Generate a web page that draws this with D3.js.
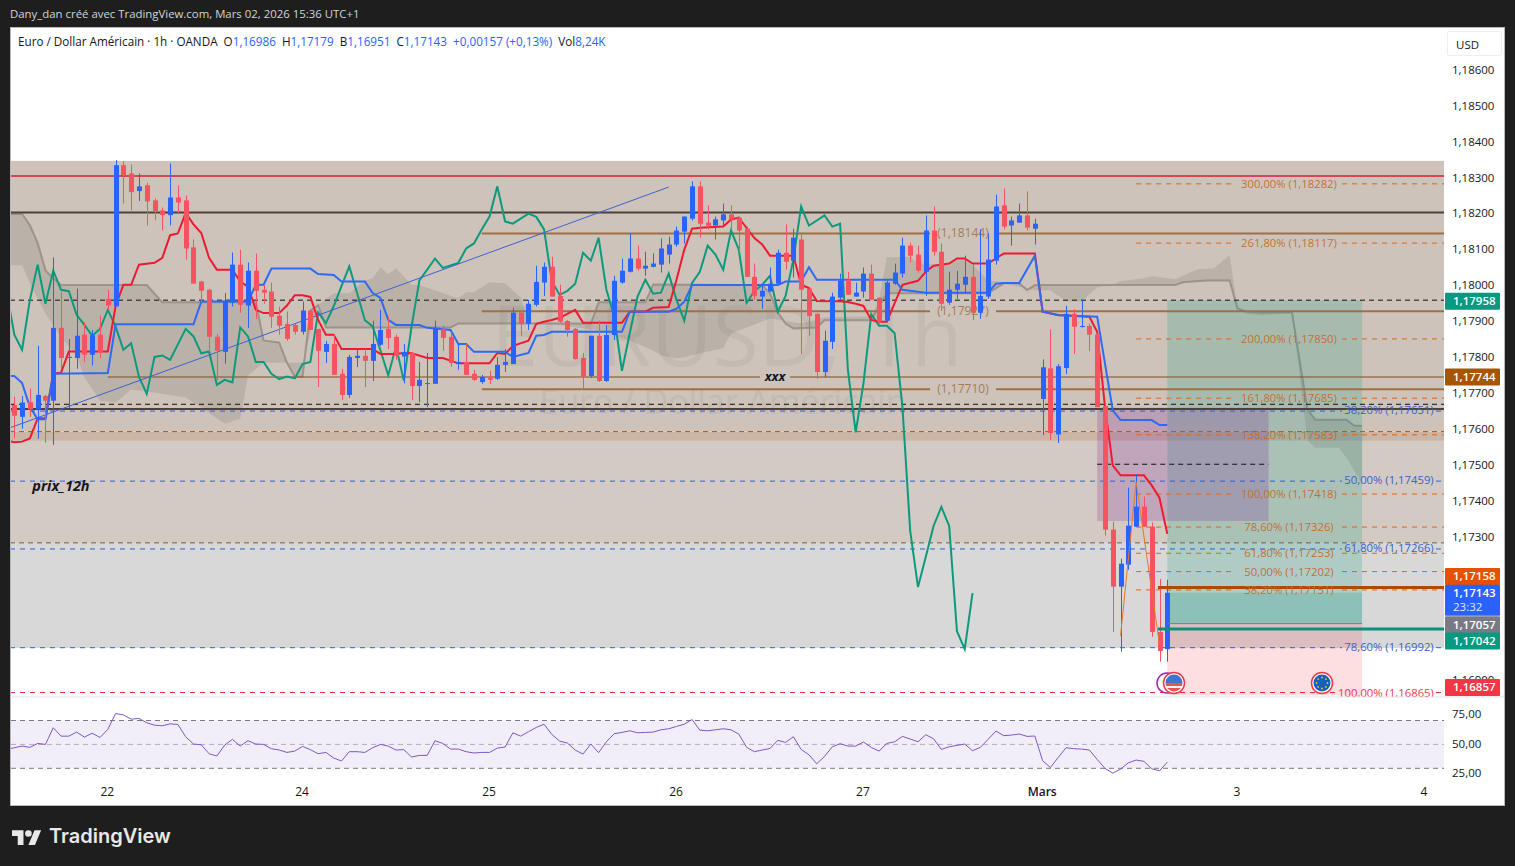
<!DOCTYPE html>
<html>
<head>
<meta charset="utf-8">
<title>EURUSD 1h</title>
<script src="https://cdn.jsdelivr.net/npm/d3@7"></script>
<style>
body { margin: 0; background: #1e1e1e; overflow: hidden; }
svg { display: block; }
text { font-family: "Open Sans", sans-serif; }
</style>
</head>
<body>
<svg id="chart" width="1515" height="866"></svg>
<script>
// candles, one value per bar
const opens = [1.17666,1.17633,1.17674,1.17654,1.17691,1.17678,1.17881,1.17797,1.17797,1.17862,1.17806,1.17862,1.17962,1.17941,1.18334,1.18311,1.18262,1.18278,1.18236,1.18208,
1.18195,1.18244,1.18236,1.18105,1.18010,1.17987,1.17856,1.17814,1.17951,1.18057,1.17943,1.18040,1.17987,1.17982,1.17915,1.17892,1.17889,1.17870,1.17929,1.17878,
1.17814,1.17836,1.17753,1.17694,1.17797,1.17803,1.17789,1.17834,1.17878,1.17856,1.17801,1.17811,1.17719,1.17726,1.17725,1.17878,1.17856,1.17780,1.17786,1.17753,
1.17730,1.17741,1.17739,1.17778,1.17780,1.17923,1.17892,1.17945,1.18007,1.18051,1.17970,1.17900,1.17878,1.17797,1.17747,1.17859,1.17733,1.17861,1.18007,1.18037,
1.18074,1.18046,1.18051,1.18057,1.18085,1.18113,1.18149,1.18185,1.18275,1.18174,1.18166,1.18180,1.18197,1.18188,1.18157,1.18023,1.17968,1.17982,1.18004,1.18090,
1.18068,1.18127,1.17990,1.17920,1.17758,1.17842,1.17965,1.18015,1.17968,1.17982,1.18032,1.17965,1.17901,1.18004,1.18032,1.18110,1.18085,1.18037,1.18152,1.18093,
1.17951,1.17987,1.18001,1.18023,1.17923,1.17968,1.18068,1.18222,1.18166,1.18174,1.18194,1.18157,1.17683,1.17768,1.17584,1.17769,1.17920,1.17884,1.17886,1.17862,
1.17663,1.17319,1.17160,1.17221,1.17327,1.17383,1.17327,1.17034,1.16986];
const highs = [1.17689,1.17691,1.17712,1.17831,1.17694,1.18077,1.17981,1.17850,1.17990,1.17897,1.17875,1.17915,1.17987,1.18348,1.18345,1.18336,1.18311,1.18285,1.18241,1.18216,
1.18339,1.18278,1.18250,1.18127,1.18012,1.17990,1.17864,1.17978,1.18091,1.18099,1.18063,1.18088,1.18001,1.18007,1.17940,1.17926,1.17892,1.17954,1.17931,1.17878,
1.17845,1.17862,1.17767,1.17806,1.17822,1.17822,1.17901,1.17931,1.17912,1.17862,1.17836,1.17814,1.17786,1.17811,1.17901,1.17887,1.17867,1.17836,1.17836,1.17764,
1.17750,1.17761,1.17800,1.17822,1.17937,1.17931,1.17959,1.18054,1.18063,1.18079,1.18001,1.17903,1.17880,1.17811,1.17859,1.17901,1.17889,1.18026,1.18074,1.18144,
1.18110,1.18093,1.18088,1.18130,1.18135,1.18163,1.18191,1.18289,1.18289,1.18222,1.18191,1.18227,1.18222,1.18191,1.18163,1.18060,1.18001,1.18049,1.18099,1.18169,
1.18157,1.18141,1.17990,1.17922,1.17873,1.17979,1.18032,1.18037,1.18007,1.18049,1.18057,1.17965,1.18012,1.18060,1.18132,1.18118,1.18110,1.18194,1.18219,1.18116,
1.18037,1.18040,1.18082,1.18057,1.18155,1.18145,1.18252,1.18269,1.18191,1.18227,1.18261,1.18185,1.17793,1.17877,1.17780,1.17942,1.17933,1.17959,1.17893,1.17866,
1.17663,1.17341,1.17238,1.17436,1.17473,1.17411,1.17339,1.17182,1.17179];
const lows = [1.17573,1.17600,1.17633,1.17572,1.17561,1.17555,1.17767,1.17657,1.17767,1.17786,1.17776,1.17797,1.17931,1.17941,1.18227,1.18208,1.18234,1.18166,1.18181,1.18152,
1.18166,1.18199,1.18071,1.18004,1.17954,1.17814,1.17736,1.17781,1.17940,1.17923,1.17881,1.17906,1.17948,1.17881,1.17862,1.17845,1.17862,1.17862,1.17875,1.17716,
1.17783,1.17750,1.17680,1.17686,1.17772,1.17716,1.17733,1.17831,1.17822,1.17792,1.17726,1.17680,1.17674,1.17660,1.17725,1.17817,1.17773,1.17764,1.17750,1.17733,
1.17725,1.17725,1.17736,1.17758,1.17780,1.17859,1.17875,1.17940,1.17970,1.17968,1.17895,1.17856,1.17792,1.17713,1.17741,1.17730,1.17730,1.17847,1.18004,1.18035,
1.18040,1.18026,1.18049,1.18035,1.18060,1.18107,1.18116,1.18180,1.18132,1.18155,1.18127,1.18163,1.18155,1.18090,1.18022,1.17959,1.17934,1.17982,1.18001,1.18043,
1.18021,1.17808,1.17859,1.17739,1.17743,1.17822,1.17959,1.17973,1.17968,1.17965,1.17959,1.17892,1.17898,1.18001,1.18021,1.18063,1.18035,1.17970,1.18082,1.17928,
1.17945,1.17962,1.17976,1.17903,1.17906,1.17962,1.18057,1.18155,1.18110,1.18174,1.18152,1.18113,1.17582,1.17568,1.17560,1.17752,1.17808,1.17882,1.17816,1.17660,
1.17302,1.17034,1.16979,1.17207,1.17327,1.17327,1.17020,1.16951,1.16951];
const closes = [1.17636,1.17673,1.17654,1.17694,1.17678,1.17881,1.17797,1.17800,1.17859,1.17806,1.17860,1.17814,1.17943,1.18334,1.18306,1.18259,1.18275,1.18233,1.18205,1.18195,
1.18244,1.18230,1.18102,1.18004,1.17984,1.17856,1.17817,1.17956,1.18057,1.17945,1.18040,1.17984,1.17979,1.17912,1.17887,1.17850,1.17870,1.17929,1.17875,1.17817,
1.17836,1.17750,1.17694,1.17800,1.17803,1.17789,1.17836,1.17875,1.17853,1.17803,1.17814,1.17719,1.17736,1.17727,1.17881,1.17853,1.17783,1.17786,1.17750,1.17736,
1.17744,1.17736,1.17778,1.17786,1.17923,1.17892,1.17948,1.18009,1.18051,1.17968,1.17898,1.17875,1.17794,1.17744,1.17859,1.17733,1.17861,1.18012,1.18040,1.18074,
1.18046,1.18054,1.18060,1.18102,1.18113,1.18152,1.18191,1.18275,1.18171,1.18166,1.18183,1.18197,1.18183,1.18152,1.18023,1.17970,1.17984,1.18004,1.18090,1.18065,
1.18132,1.17987,1.17914,1.17758,1.17845,1.17968,1.18012,1.17973,1.17979,1.18032,1.17959,1.17898,1.18007,1.18035,1.18110,1.18082,1.18040,1.18152,1.18093,1.17948,
1.17987,1.18004,1.18023,1.17923,1.17970,1.18071,1.18219,1.18163,1.18180,1.18194,1.18160,1.18171,1.17771,1.17588,1.17774,1.17920,1.17884,1.17886,1.17862,1.17660,
1.17319,1.17160,1.17224,1.17330,1.17383,1.17327,1.17034,1.16981,1.17143];

// green line, one value per bar starting one bar before the first candle
const laggingVals = [1.17985,1.17862,1.17820,1.17959,1.18057,1.17948,1.18040,1.17987,1.17983,1.17917,1.17889,1.17859,1.17878,1.17931,1.17885,1.17820,1.17838,1.17745,1.17697,1.17800,1.17804,
1.17792,1.17835,1.17878,1.17857,1.17810,1.17815,1.17722,1.17736,1.17729,1.17882,1.17857,1.17786,1.17786,1.17753,1.17738,1.17745,1.17740,1.17780,1.17786,1.17924,
1.17894,1.17941,1.17997,1.18052,1.17978,1.17902,1.17885,1.17818,1.17749,1.17829,1.17734,1.17885,1.18013,1.18043,1.18074,1.18048,1.18055,1.18062,1.18102,1.18116,
1.18155,1.18191,1.18275,1.18177,1.18171,1.18185,1.18199,1.18190,1.18155,1.18010,1.17973,1.17984,1.18004,1.18090,1.18068,1.18132,1.17987,1.17913,1.17761,1.17866,
1.17968,1.18015,1.17976,1.17979,1.18032,1.17959,1.17901,1.18006,1.18037,1.18110,1.18085,1.18043,1.18152,1.18099,1.17951,1.17983,1.18001,1.18026,1.17926,1.17970,
1.18071,1.18219,1.18166,1.18180,1.18194,1.18163,1.18171,1.17764,1.17590,1.17726,1.17919,1.17887,1.17887,1.17866,1.17661,1.17315,1.17159,1.17243,1.17329,1.17382,
1.17329,1.17036,1.16986,1.17142];

// red line, read at its corners
const convBars = [-1,0,1,2,3,4,5,6,7,12,13,14,15,16,18,19,20,21,22,23,24,25,26,28,29,30,31,32,34,35,36,37,38,39,40,41,42,46,47,49,50,51,53,55,57,61,62,63,64,66,67,68,69,70,72,73,78,79,81,82,84,85,86,87,88,91,92,93,94,95,96,97,100,101,102,103,106,107,108,109,110,111,112,113,114,116,117,118,120,121,122,123,125,127,131,132,134,138,139,140,141,142,145,146,147,148];
const convVals = [1.17567,1.17562,1.17564,1.17573,1.17629,1.17629,1.17754,1.17756,1.17815,1.17815,1.17941,1.18001,1.18001,1.18057,1.18062,1.18076,1.18139,1.18144,1.18201,1.18169,1.18145,1.18076,1.18043,1.18043,1.18010,1.17996,1.17931,1.17922,1.17922,1.17943,1.17972,1.17972,1.17967,1.17903,1.17862,1.17862,1.17822,1.17822,1.17808,1.17808,1.17811,1.17810,1.17797,1.17797,1.17782,1.17782,1.17811,1.17808,1.17831,1.17845,1.17892,1.17898,1.17903,1.17909,1.17931,1.17895,1.17895,1.17926,1.17926,1.17937,1.17939,1.18015,1.18099,1.18157,1.18160,1.18163,1.18183,1.18188,1.18159,1.18131,1.18113,1.18082,1.18082,1.18001,1.17992,1.17956,1.17955,1.17953,1.17948,1.17942,1.17903,1.17898,1.17898,1.17950,1.18001,1.18012,1.18037,1.18054,1.18060,1.18074,1.18074,1.18060,1.18060,1.18088,1.18088,1.17926,1.17917,1.17912,1.17870,1.17661,1.17498,1.17470,1.17470,1.17442,1.17407,1.17307];

// blue line, read at its corners
const baseBars = [-1,0,1,2,3,4,5,12,13,23,24,30,31,32,33,38,39,41,42,45,46,47,48,49,52,53,56,57,58,59,63,64,66,67,68,69,78,79,84,85,86,87,98,99,101,102,103,113,114,117,125,126,127,129,131,132,134,139,141,142,146,147,148];
const baseVals = [1.17747,1.17747,1.17727,1.17661,1.17626,1.17626,1.17753,1.17755,1.17891,1.17891,1.17954,1.17954,1.18001,1.18001,1.18046,1.18046,1.18031,1.18028,1.18010,1.18010,1.17978,1.17964,1.17903,1.17889,1.17889,1.17881,1.17875,1.17836,1.17836,1.17814,1.17814,1.17800,1.17811,1.17859,1.17861,1.17870,1.17870,1.17926,1.17926,1.17934,1.17954,1.18000,1.18000,1.18010,1.18010,1.18050,1.18015,1.18015,1.17987,1.17979,1.17979,1.18004,1.18006,1.18006,1.18082,1.17926,1.17916,1.17912,1.17651,1.17624,1.17624,1.17610,1.17610];

// cloud edges
const spanABars = [-1,1,2,4,6,8,9,11,13,15,18,22,24,27,29,30,32,37,39,41,43,45,46,47,48,49,51,52,57,58,59,61,63,65,66,70,75,79,82,83,85,86,88,91,92,94,97,101,104,110,111,112,115,116,119,121,122,123,124,125,127,128,131,133,135,137,139,141,142,145,146,147,149,151,152,154,156,157,158,160,164,166,167,170,171,173];
const spanAVals = [1.18055,1.18055,1.18005,1.17921,1.17854,1.17804,1.17743,1.17678,1.17673,1.17709,1.17701,1.17687,1.17659,1.17614,1.17628,1.17748,1.17784,1.17784,1.17944,1.17977,1.17977,1.18013,1.18019,1.18050,1.18030,1.18047,1.18000,1.18000,1.17963,1.17980,1.17980,1.18008,1.18005,1.17966,1.17896,1.17888,1.17874,1.17846,1.17818,1.17804,1.17796,1.17799,1.17810,1.17824,1.17865,1.17882,1.17907,1.17893,1.17910,1.17913,1.17958,1.18078,1.18078,1.18061,1.18055,1.18069,1.18069,1.18055,1.18036,1.18013,1.18008,1.18000,1.17986,1.17986,1.17955,1.17955,1.17994,1.18000,1.18011,1.18019,1.18025,1.18022,1.18016,1.18036,1.18044,1.18047,1.18083,1.17935,1.17921,1.17916,1.17924,1.17567,1.17547,1.17547,1.17519,1.17446];
const spanBBars = [-1,1,2,3,4,5,6,17,19,31,32,34,35,36,37,38,39,40,49,56,57,74,75,81,82,93,96,97,98,99,100,103,104,110,112,125,127,129,130,131,149,150,153,156,157,158,160,164,166,167,171,172,173];
const spanBVals = [1.18198,1.18198,1.18167,1.18117,1.18041,1.18019,1.18000,1.18000,1.17952,1.17952,1.17846,1.17840,1.17784,1.17745,1.17745,1.17930,1.17944,1.17882,1.17882,1.17882,1.17893,1.17893,1.17952,1.17952,1.18002,1.18000,1.18000,1.17977,1.17924,1.17893,1.17879,1.17882,1.17902,1.17902,1.17977,1.17977,1.18005,1.18005,1.17986,1.18000,1.18000,1.18008,1.18013,1.18013,1.17935,1.17927,1.17924,1.17924,1.17653,1.17625,1.17625,1.17608,1.17608];

// RSI, one value per bar starting one bar before the first candle
const rsiVals = [45.8,47.2,48.6,47.5,50.8,50,63.9,56.9,56.9,60.3,56.1,59.4,55.8,62.5,75.8,74.7,71.1,71.7,68.1,66.1,65.6,67.2,66.7,56.4,50.3,49.7,42.2,40.3,49.4,54.2,48.6,53.1,50.3,50,46.4,45.3,43.3,44.4,48.3,45.6,42.2,43.3,38.6,36.1,43.9,43.9,43.3,47.2,50,48.6,45.3,45.6,39.4,40.8,40.8,53.1,50.8,46.1,46.1,43.9,42.8,43.3,43.3,46.9,47.8,59.7,56.9,60.6,64.2,66.9,58.3,52.8,51.1,45.3,41.9,50.3,43.1,52.2,58.9,60,61.4,59.7,60,60.3,62.2,63.1,65,66.9,70.8,61.9,61.4,62.2,63.1,62.2,58.6,47.5,43.9,45.3,46.6,53.4,51.7,56.4,45.8,41.3,33.8,39.9,48,50.6,48.6,48.6,52,47.5,44.4,50.8,52.2,56.7,54.5,52.2,58.1,54.7,45.8,48,49.2,50.3,44.7,47.5,54.2,61.2,57.3,57.8,58.7,56.7,57,36.3,30.7,39.1,47.2,46.4,46.1,45.3,37.4,29.9,26,29.3,34.6,36.9,35.8,29.6,27.9,35.2];
const rsiLevels = [70, 50, 30];
const rsiTicks = [75, 50, 25];

// axes
const priceTicks = [1.186,1.185,1.184,1.183,1.182,1.181,1.18,1.179,1.178,1.177,1.176,1.175,1.174,1.173,1.172,1.171,1.17,1.169];
const dayBars = [12, 37, 61, 85, 109, 132, 157, 181];
const dayLabels = ["22", "24", "25", "26", "27", "Mars", "3", "4"];

// background zones: top, bottom
const zoneTops = [1.18346, 1.17592, 1.17566, 1.17282];
const zoneBottoms = [1.17592, 1.17566, 1.17282, 1.16989];
const zoneColors = ["#cdc3ba", "#cbb5a4", "#d3cbc3", "#d8d8d8"];

// drawn levels
const solidPrices = [1.18304, 1.18202, 1.17655];
const solidColors = ["#cf4a52", "#4d4239", "#4d4239"];
const blackDashes = [1.17958, 1.17668];
const labelLevels = [1.18144, 1.17927, 1.17710];
const fibOrangePct = ["300,00%","261,80%","200,00%","161,80%","138,20%","100,00%","78,60%","61,80%","50,00%","38,20%"];
const fibOrangePrices = [1.18282,1.18117,1.1785,1.17685,1.17583,1.17418,1.17326,1.17253,1.17202,1.17151];
const fibBluePct = ["38,20%","50,00%","61,80%","78,60%"];
const fibBlueLabels = [1.17651,1.17459,1.17266,1.16992];
const fibBlueLines = [1.17649,1.17454,1.17265,1.1699];
const trendBars = [-1, 84];
const trendVals = [1.17599, 1.18273];
const zigzagBars = [142, 144, 147];
const zigzagVals = [1.17023, 1.17451, 1.16999];

// price tags on the axis
const tagPrices = [1.17958, 1.17744, 1.17158, 1.17143, 1.17057, 1.17042, 1.16857];
const tagColors = ["#089981", "#a85500", "#e65100", "#2962ff", "#787b86", "#089981", "#f23645"];
const tagShift = [1, 0, -11, 0, 1, 12, -8];

const svg = d3.select('#chart');
const plotL = 10, plotR = 1444, axisR = 1500, paneTop = 27, paneBot = 697, rsiBot = 775, panelBot = 805;

const x = d3.scaleLinear().domain([0, 148]).range([14.3, 1167.3]);
const y = d3.scaleLinear().domain([1.186, 1.169]).range([69.7, 680]);
const rsiY = d3.scaleLinear().domain([70, 30]).range([720.5, 768.3]);

const comma = d3.formatLocale({decimal: ",", thousands: " ", grouping: [3], currency: ["", ""]});
const fmtPrice = comma.format(".5f");
const fmtRsi = comma.format(".2f");

// frame
svg.append('rect').attr('x', plotL + 0.5).attr('y', paneTop + 0.5).attr('width', 1494).attr('height', panelBot - paneTop)
    .attr('fill', '#fff').attr('stroke', '#b8b8b8');

const defs = svg.append('defs');
defs.append('clipPath').attr('id', 'clip').append('rect')
    .attr('x', plotL + 1).attr('y', paneTop).attr('width', plotR - plotL - 1).attr('height', paneBot - paneTop);
defs.append('clipPath').attr('id', 'clipRsi').append('rect')
    .attr('x', plotL + 1).attr('y', paneBot).attr('width', plotR - plotL - 1).attr('height', rsiBot - paneBot);
defs.append('clipPath').attr('id', 'clipFlag').append('circle').attr('cx', 1174).attr('cy', 683).attr('r', 8.5);

const main = svg.append('g').attr('clip-path', 'url(#clip)');

zoneTops.forEach((t, i) => {
    main.append('rect').attr('x', plotL).attr('width', plotR - plotL)
        .attr('y', y(t)).attr('height', y(zoneBottoms[i]) - y(t)).attr('fill', zoneColors[i]);
});

// watermark
main.append('text').text('EURUSD, 1h').attr('x', 727).attr('y', 366).attr('text-anchor', 'middle')
    .style('font-size', '84px').attr('fill', '#6b6b6b').attr('opacity', 0.09);
main.append('text').text('Euro / Dollar Américain').attr('x', 723).attr('y', 414).attr('text-anchor', 'middle')
    .style('font-size', '34px').attr('fill', '#6b6b6b').attr('opacity', 0.09);

// cloud
const lineFn = d3.line().x(d => x(d[0])).y(d => y(d[1]));
const spanA = spanABars.map((b, i) => [b, spanAVals[i]]);
const spanB = spanBBars.map((b, i) => [b, spanBVals[i]]);
main.append('path').attr('d', lineFn(spanA.concat(spanB.slice().reverse())) + 'Z')
    .attr('fill', '#6e6a66').attr('fill-opacity', 0.2);
main.append('path').attr('d', lineFn(spanB)).attr('fill', 'none').attr('stroke', '#8d8780').attr('stroke-opacity', 0.75).attr('stroke-width', 2);

// position and box drawings
const boxes = [
    {b0: 148, b1: 173, top: 1.17958, bot: 1.17057, fill: 'rgba(8,153,129,0.20)'},
    {b0: 148, b1: 173, top: 1.17143, bot: 1.17057, fill: 'rgba(8,153,129,0.20)'},
    {b0: 148, b1: 173, top: 1.17057, bot: 1.16857, fill: 'rgba(242,54,69,0.16)'},
    {b0: 139, b1: 161, top: 1.17658, bot: 1.17343, fill: 'rgba(130,30,160,0.22)'}
];
boxes.forEach(b => {
    main.append('rect').attr('x', x(b.b0)).attr('width', x(b.b1) - x(b.b0))
        .attr('y', y(b.top)).attr('height', y(b.bot) - y(b.top)).attr('fill', b.fill);
});

function hline(price, x1, x2, color, w, dash) {
    main.append('line').attr('x1', x1).attr('x2', x2).attr('y1', y(price)).attr('y2', y(price))
        .attr('stroke', color).attr('stroke-width', w).attr('stroke-dasharray', dash || null);
}

// levels
solidPrices.forEach((p, i) => hline(p, plotL, plotR, solidColors[i], 2));
blackDashes.forEach(p => hline(p, plotL, plotR, '#111', 1, '5,4'));
hline(1.17501, x(139), x(161), '#111', 1, '5,4');
hline(1.17592, plotL, plotR, '#b8590e', 1, '5,4');
hline(1.17282, plotL, plotR, '#7a5a45', 1, '5,4');
hline(1.17744, x(12), 760, '#80501f', 1.2);
hline(1.17744, 790, plotR, '#80501f', 1.2);

const levelText = main.append('g');
labelLevels.forEach(p => {
    hline(p, x(60), 930, '#a06f45', 2);
    hline(p, 996, plotR, '#a06f45', 2);
    levelText.append('text').text('(' + fmtPrice(p) + ')').attr('x', 963).attr('y', y(p) + 4)
        .attr('text-anchor', 'middle').attr('fill', '#a97c55').style('font-size', '12px');
});

// fib dashes with the text gap
fibBlueLines.forEach(p => {
    hline(p, plotL, 1342, '#2f5fd8', 1, '5,5');
    hline(p, 1436, plotR, '#2f5fd8', 1, '5,5');
});
hline(1.16865, plotL, 1336, '#f2202f', 1, '5,5');
hline(1.16865, 1436, plotR, '#f2202f', 1, '5,5');
fibOrangePrices.forEach(p => {
    hline(p, x(144), 1236, '#e8620e', 1, '5,5');
    hline(p, 1342, plotR, '#e8620e', 1, '5,5');
});

// ichimoku lines
main.append('path').attr('d', lineFn(laggingVals.map((v, i) => [i - 1, v])))
    .attr('fill', 'none').attr('stroke', '#0c9a7d').attr('stroke-width', 2);
main.append('path').attr('d', lineFn(convBars.map((b, i) => [b, convVals[i]])))
    .attr('fill', 'none').attr('stroke', '#ef1a2f').attr('stroke-width', 2);
main.append('path').attr('d', lineFn(baseBars.map((b, i) => [b, baseVals[i]])))
    .attr('fill', 'none').attr('stroke', '#2f6af5').attr('stroke-width', 2);

// trend line
main.append('path').attr('d', lineFn(trendBars.map((b, i) => [b, trendVals[i]])))
    .attr('fill', 'none').attr('stroke', '#3d62d0').attr('stroke-width', 1);

// candles
const barIdx = d3.range(opens.length);
const up = i => closes[i] >= opens[i];
const candleColor = i => up(i) ? '#2962ff' : '#f7525f';
main.append('g').selectAll('line').data(barIdx).enter().append('line')
    .attr('x1', i => Math.round(x(i)) + 0.5).attr('x2', i => Math.round(x(i)) + 0.5)
    .attr('y1', i => y(highs[i])).attr('y2', i => y(lows[i]))
    .attr('stroke', candleColor);
main.append('g').selectAll('rect').data(barIdx).enter().append('rect')
    .attr('x', i => Math.round(x(i)) - 2).attr('width', 5)
    .attr('y', i => y(Math.max(opens[i], closes[i])))
    .attr('height', i => Math.max(1, Math.abs(y(opens[i]) - y(closes[i]))))
    .attr('fill', candleColor);

main.append('path').attr('d', lineFn(zigzagBars.map((b, i) => [b, zigzagVals[i]])))
    .attr('fill', 'none').attr('stroke', '#e07a25').attr('stroke-width', 1);

// position lines
hline(1.17158, x(146.8), plotR, '#b04a00', 3);
hline(1.17042, x(146.8), plotR, '#0e8f7c', 3);
main.append('line').attr('x1', x(148)).attr('x2', x(173)).attr('y1', y(1.17057)).attr('y2', y(1.17057))
    .attr('stroke', '#787b86').attr('stroke-width', 1);

// fib labels
fibOrangePrices.forEach((p, i) => {
    main.append('text').text(fibOrangePct[i] + ' (' + fmtPrice(p) + ')').attr('x', 1289).attr('y', y(p) + 4)
        .attr('text-anchor', 'middle').attr('fill', '#c8692a').attr('fill-opacity', 0.95).style('font-size', '11.3px');
});
fibBlueLabels.forEach((p, i) => {
    main.append('text').text(fibBluePct[i] + ' (' + fmtPrice(p) + ')').attr('x', 1389).attr('y', y(fibBlueLines[i]) + 3)
        .attr('text-anchor', 'middle').attr('fill', '#3a62cc').style('font-size', '11.3px');
});
main.append('text').text('100,00% (' + fmtPrice(1.16865) + ')').attr('x', 1386).attr('y', y(1.16865) + 4)
    .attr('text-anchor', 'middle').attr('fill', '#f23645').style('font-size', '11.3px');

main.append('text').text('xxx').attr('x', 775).attr('y', y(1.17744) + 4).attr('text-anchor', 'middle')
    .style('font-size', '13px').style('font-weight', 700).style('font-style', 'italic').attr('fill', '#131722');
main.append('text').text('prix_12h').attr('x', 61).attr('y', 491).attr('text-anchor', 'middle')
    .style('font-size', '14.5px').style('font-weight', 700).style('font-style', 'italic').attr('fill', '#131722');

// event icons
const icons = svg.append('g');
icons.append('circle').attr('cx', 1167).attr('cy', 683).attr('r', 10).attr('fill', 'none').attr('stroke', '#9c27b0').attr('stroke-width', 1.5);
icons.append('circle').attr('cx', 1174).attr('cy', 683).attr('r', 10.5).attr('fill', '#fff').attr('stroke', '#f23645').attr('stroke-width', 1.5);
const flag = icons.append('g').attr('clip-path', 'url(#clipFlag)');
flag.append('rect').attr('x', 1165).attr('y', 674).attr('width', 18).attr('height', 18).attr('fill', '#f4f4f4');
flag.append('rect').attr('x', 1165).attr('y', 683).attr('width', 18).attr('height', 3).attr('fill', '#e4574f');
flag.append('rect').attr('x', 1165).attr('y', 688).attr('width', 18).attr('height', 4).attr('fill', '#e4574f');
flag.append('rect').attr('x', 1165).attr('y', 674).attr('width', 18).attr('height', 9).attr('fill', '#3f74d0');
icons.append('circle').attr('cx', 1322).attr('cy', 683).attr('r', 10.5).attr('fill', '#fff').attr('stroke', '#f23645').attr('stroke-width', 1.5);
icons.append('circle').attr('cx', 1322).attr('cy', 683).attr('r', 8.5).attr('fill', '#1560bd');
d3.range(8).forEach(k => icons.append('circle')
    .attr('cx', 1322 + 5.5 * Math.cos(k * Math.PI / 4)).attr('cy', 683 + 5.5 * Math.sin(k * Math.PI / 4))
    .attr('r', 0.9).attr('fill', '#f5c518'));

// price axis
const priceAxis = svg.append('g').attr('transform', `translate(${plotR},0)`)
    .call(d3.axisRight(y).tickValues(priceTicks).tickSize(0).tickPadding(8).tickFormat(fmtPrice));
priceAxis.select('.domain').remove();
priceAxis.selectAll('text').style('font-size', '11.5px').style('font-family', '"Open Sans", sans-serif').attr('fill', '#131722');

// tags over the axis
tagPrices.forEach((p, i) => {
    const h = p == 1.17143 ? 31 : 17;
    const cy = y(p) + tagShift[i];
    const top = p == 1.17143 ? cy - 8 : cy - h / 2;
    svg.append('rect').attr('x', plotR + 1).attr('y', top).attr('width', axisR - plotR - 1).attr('height', h)
        .attr('rx', 1).attr('fill', tagColors[i]);
    svg.append('text').text(fmtPrice(p)).attr('x', plotR + 9).attr('y', cy + 4).attr('fill', '#fff')
        .style('font-size', '11.5px').style('font-weight', 600);
});
svg.append('text').text('23:32').attr('x', plotR + 9).attr('y', y(1.17143) + 18).attr('fill', '#dfe6ff').style('font-size', '11.5px');

// RSI pane
svg.append('line').attr('x1', plotL).attr('x2', 1504).attr('y1', paneBot).attr('y2', paneBot).attr('stroke', '#e0e3eb');
svg.append('rect').attr('x', plotL + 1).attr('width', plotR - plotL - 1)
    .attr('y', rsiY(70)).attr('height', rsiY(30) - rsiY(70)).attr('fill', '#7e57c2').attr('fill-opacity', 0.1);
rsiLevels.forEach(v => {
    svg.append('line').attr('x1', plotL + 1).attr('x2', plotR).attr('y1', rsiY(v)).attr('y2', rsiY(v))
        .attr('stroke', v == 50 ? '#b0aeb8' : '#787b86').attr('stroke-dasharray', '5,4');
});
const rsiLine = d3.line().x((d, i) => x(i - 1)).y(d => rsiY(d));
svg.append('path').attr('d', rsiLine(rsiVals)).attr('clip-path', 'url(#clipRsi)')
    .attr('fill', 'none').attr('stroke', '#7e57c2').attr('stroke-width', 1);
const rsiAxis = svg.append('g').attr('transform', `translate(${plotR},-1)`)
    .call(d3.axisRight(rsiY).tickValues(rsiTicks).tickSize(0).tickPadding(8).tickFormat(fmtRsi));
rsiAxis.select('.domain').remove();
rsiAxis.selectAll('text').style('font-size', '11.5px').style('font-family', '"Open Sans", sans-serif').attr('fill', '#131722');

// time axis
const timeAxis = svg.append('g').attr('transform', `translate(-1,${rsiBot + 4})`)
    .call(d3.axisBottom(x).tickValues(dayBars).tickSize(0).tickPadding(8).tickFormat((d, i) => dayLabels[i]));
timeAxis.select('.domain').remove();
timeAxis.selectAll('text').style('font-size', '12px').style('font-family', '"Open Sans", sans-serif').attr('fill', '#131722')
    .style('font-weight', (d, i) => dayLabels[i] == 'Mars' ? 600 : 400);

// header
svg.append('text').text('Dany_dan créé avec TradingView.com, Mars 02, 2026 15:36 UTC+1')
    .attr('x', 10).attr('y', 18).attr('fill', '#d1d4dc').style('font-size', '11.4px');

const headParts = [['Euro / Dollar Américain · 1h · OANDA  O', '#131722'], ['1,16986', '#2962ff'], ['  H', '#131722'], ['1,17179', '#2962ff'], ['  B', '#131722'], ['1,16951', '#2962ff'], ['  C', '#131722'], ['1,17143', '#2962ff'], ['  +0,00157 (+0,13%)', '#2962ff'], ['  Vol', '#131722'], ['8,24K', '#2962ff']];
const head = svg.append('text').attr('x', 18).attr('y', 46).style('font-size', '11.7px').attr('xml:space', 'preserve').style('white-space', 'pre');
headParts.forEach(p => head.append('tspan').text(p[0]).attr('fill', p[1]));

// USD box
svg.append('rect').attr('x', 1447.5).attr('y', 31.5).attr('width', 54).attr('height', 24).attr('rx', 2).attr('fill', '#fff').attr('stroke', '#eceef2');
svg.append('text').text('USD').attr('x', 1456).attr('y', 49).attr('fill', '#131722').style('font-size', '11.5px');

// logo
const logo = svg.append('g').attr('transform', 'translate(12,827) scale(0.82)').attr('fill', '#e8e8e8');
logo.append('path').attr('d', 'M14 22H7V11H0V4h14v18zM28 22h-8l7.5-18h8L28 22z');
logo.append('circle').attr('cx', 20).attr('cy', 8).attr('r', 4);
svg.append('text').text('TradingView').attr('x', 49).attr('y', 843).attr('fill', '#e8e8e8')
    .style('font-family', 'Inter, sans-serif').style('font-size', '20px').style('font-weight', 600);
</script>
</body>
</html>
